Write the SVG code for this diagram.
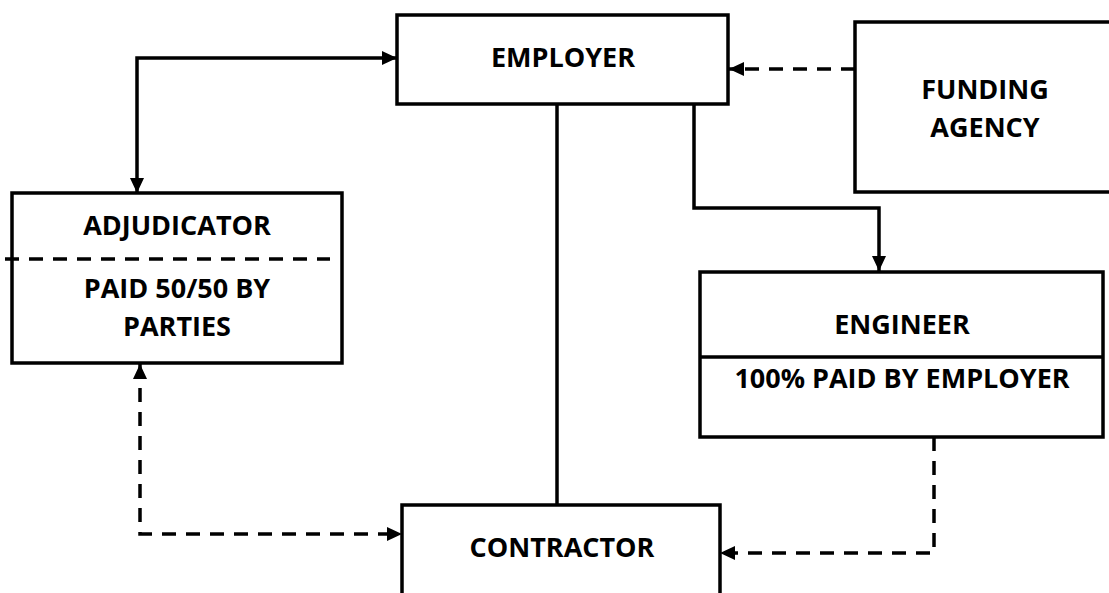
<svg xmlns="http://www.w3.org/2000/svg" width="1109" height="593" viewBox="0 0 1109 593">
<defs>
<marker id="ah" markerUnits="userSpaceOnUse" markerWidth="16" markerHeight="14" refX="15" refY="7" orient="auto">
<path d="M0,0 L15,7 L0,14 Z" fill="#000"/>
</marker>
<marker id="ahs" markerUnits="userSpaceOnUse" markerWidth="16" markerHeight="14" refX="15" refY="7" orient="auto-start-reverse">
<path d="M0,0 L15,7 L0,14 Z" fill="#000"/>
</marker>
<style>
.box{fill:#fff;stroke:#000;stroke-width:3.5}
.ln{fill:none;stroke:#000;stroke-width:3.5}
.dash{fill:none;stroke:#000;stroke-width:3.5;stroke-dasharray:14,10}
.t{font-family:"Open Sans","Liberation Sans",sans-serif;font-weight:bold;font-size:27px;text-anchor:middle;fill:#000}
</style>
</defs>
<rect width="1109" height="593" fill="#fff"/>
<g id="connectors">
<path class="ln" d="M137,193 L137,58 L397,58" marker-end="url(#ah)" marker-start="url(#ahs)"/>
<path class="ln" d="M557,104 L557,505"/>
<path class="ln" d="M694,104 L694,208 L879,208 L879,271" marker-end="url(#ah)"/>
<path class="dash" d="M855,69 L729,69" marker-end="url(#ah)"/>
<path class="dash" d="M140,364 L140,534 L402,534" marker-end="url(#ah)" marker-start="url(#ahs)"/>
<path class="dash" d="M934,437 L934,553 L720,553" marker-end="url(#ah)"/>
</g>
<g id="employer">
<rect class="box" x="397" y="15" width="331" height="89"/>
<text class="t" x="563" y="67">EMPLOYER</text>
</g>
<g id="funding-agency">
<rect class="box" x="855" y="22" width="270" height="170"/>
<text class="t" x="985" y="99">FUNDING</text>
<text class="t" x="985" y="137">AGENCY</text>
</g>
<g id="adjudicator">
<rect class="box" x="12" y="193" width="330" height="170"/>
<line class="dash" x1="5" y1="259" x2="330" y2="259"/>
<text class="t" x="177" y="235">ADJUDICATOR</text>
<text class="t" x="177" y="298">PAID 50/50 BY</text>
<text class="t" x="177" y="336">PARTIES</text>
</g>
<g id="engineer">
<rect class="box" x="700" y="272" width="403" height="165"/>
<line class="ln" x1="700" y1="357" x2="1103" y2="357"/>
<text class="t" x="902" y="334">ENGINEER</text>
<text class="t" x="902" y="388">100% PAID BY EMPLOYER</text>
</g>
<g id="contractor">
<rect class="box" x="402" y="505" width="318" height="110"/>
<text class="t" x="562" y="557">CONTRACTOR</text>
</g>
</svg>
